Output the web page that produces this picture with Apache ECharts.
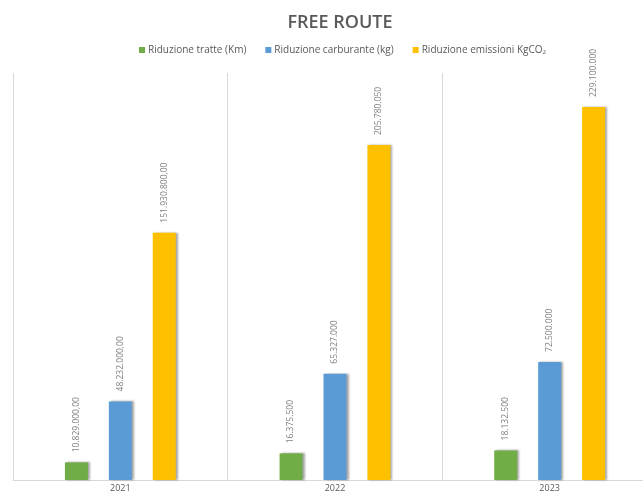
<!DOCTYPE html>
<html>
<head>
<meta charset="utf-8">
<script src="https://cdn.jsdelivr.net/npm/echarts@6/dist/echarts.min.js"></script>
<style>
html,body{margin:0;padding:0;background:#fff;overflow:hidden;width:643px;height:495px;}
#c{width:662px;height:495px;}
</style>
</head>
<body>
<div id="c"></div>
<script>
const years = ['2021', '2022', '2023'];
const seriesNames = ['Riduzione tratte (Km)', 'Riduzione carburante (kg)', 'Riduzione emissioni KgCO\u2082'];
const tratte = [10829000, 16375500, 18132500];
const carburante = [48232000, 65327000, 72500000];
const emissioni = [151930800, 205780050, 229100000];
const tratteLabels = ['10.829.000,00', '16.375.500', '18.132.500'];
const carburanteLabels = ['48.232.000,00', '65.327.000', '72.500.000'];
const emissioniLabels = ['151.930.800,00', '205.780.050', '229.100.000'];
const colors = ['#70AD47', '#5B9BD5', '#FFC000'];

const chart = echarts.init(document.getElementById('c'));
function mk(name, data, labels, color) {
  return {
    name: name,
    type: 'bar',
    data: data,
    barWidth: 23,
    barGap: '91%',
    itemStyle: {
      color: color,
      shadowColor: 'rgba(0,0,0,0.35)',
      shadowBlur: 2,
      shadowOffsetX: 2,
      shadowOffsetY: 0
    },
    label: {
      show: true,
      position: 'top',
      rotate: 90,
      align: 'left',
      verticalAlign: 'middle',
      distance: 10,
      color: '#7f7f7f',
      fontSize: 8.5,
      fontFamily: 'Open Sans',
      formatter: function (p) { return labels[p.dataIndex]; }
    }
  };
}
chart.setOption({
  animation: false,
  backgroundColor: '#fff',
  color: colors,
  title: {
    text: 'FREE ROUTE',
    left: 335,
    textAlign: 'center',
    top: 9,
    textStyle: { color: '#595959', fontSize: 18, fontWeight: 600, fontFamily: 'Open Sans' }
  },
  legend: {
    top: 40,
    left: 134,
    itemWidth: 6,
    itemHeight: 6,
    itemGap: 19,
    icon: 'rect',
    textStyle: { color: '#595959', fontSize: 10, fontFamily: 'Open Sans', padding: [0, 0, 0, -2] },
    data: seriesNames
  },
  grid: { left: 13, width: 644, top: 73, bottom: 15, containLabel: false },
  xAxis: {
    type: 'category',
    data: years,
    axisLine: { show: true, lineStyle: { color: '#d9d9d9', width: 1 } },
    axisTick: { show: false },
    splitLine: { show: true, interval: 0, lineStyle: { color: '#d9d9d9', width: 1 } },
    axisLabel: { color: '#595959', fontSize: 9, margin: 4, fontFamily: 'Open Sans' }
  },
  yAxis: {
    type: 'value',
    min: 0,
    max: 250000000,
    show: false,
    splitLine: { show: false }
  },
  series: [
    mk(seriesNames[0], tratte, tratteLabels, colors[0]),
    mk(seriesNames[1], carburante, carburanteLabels, colors[1]),
    mk(seriesNames[2], emissioni, emissioniLabels, colors[2])
  ]
});
</script>
</body>
</html>
